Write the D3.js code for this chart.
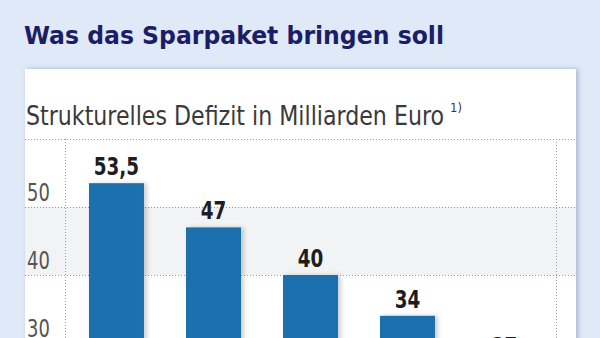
<!DOCTYPE html>
<html><head><meta charset="utf-8">
<script src="https://cdn.jsdelivr.net/npm/d3@7"></script>
<style>
html,body{margin:0;padding:0;background:#dfe9f8;overflow:hidden}
svg{display:block}
</style></head>
<body>
<svg id="c" width="600" height="338"></svg>
<script>
const title = "Was das Sparpaket bringen soll";
const subtitle = "Strukturelles Defizit in Milliarden Euro";
const footnoteMark = "1)";
const categories = ["2011", "2012", "2013", "2014", "2015"];
const values = [53.5, 47, 40, 34, 27];
const valueLabels = ["53,5", "47", "40", "34", "27"];
const yTicks = [0, 10, 20, 30, 40, 50];

const svg = d3.select("#c");
const defs = svg.append("defs");
const sh = defs.append("filter").attr("id","psh").attr("x","-5%").attr("y","-5%").attr("width","110%").attr("height","110%");
sh.append("feDropShadow").attr("dx",2).attr("dy",0).attr("stdDeviation",2.5).attr("flood-color","#6a7fa0").attr("flood-opacity",0.5);
const bsh = defs.append("filter").attr("id","bsh").attr("x","-10%").attr("y","-10%").attr("width","130%").attr("height","120%");
bsh.append("feDropShadow").attr("dx",3).attr("dy",0).attr("stdDeviation",2).attr("flood-color","#000").attr("flood-opacity",0.18);

svg.append("rect").attr("width",600).attr("height",338).attr("fill","#dfe9f8");

// panel
svg.append("rect").attr("x",25).attr("y",69).attr("width",551).attr("height",400)
  .attr("fill","#ffffff").attr("filter","url(#psh)");

const condensed = "'Liberation Sans Narrow','DejaVu Sans Condensed','Arial Narrow','DejaVu Sans',sans-serif";

function squeeze(sel, f){
  sel.each(function(){ const w = this.getComputedTextLength(); d3.select(this).attr("textLength", w*f).attr("lengthAdjust","spacingAndGlyphs"); });
  return sel;
}

svg.append("text").attr("x",24).attr("y",44)
  .attr("font-family",condensed).attr("font-weight","bold").attr("font-size",25)
  .attr("fill","#1b1e66").attr("textLength",420).attr("lengthAdjust","spacingAndGlyphs")
  .text(title);

svg.append("text").attr("x",26).attr("y",125)
  .attr("font-family",condensed).attr("font-size",26)
  .attr("fill","#3a3a3a").attr("textLength",418).attr("lengthAdjust","spacingAndGlyphs")
  .text(subtitle);
svg.append("text").attr("x",450).attr("y",112)
  .attr("font-family",condensed).attr("font-size",13)
  .attr("fill","#3a3a3a").text(footnoteMark);

const y = d3.scaleLinear().domain([0,60]).range([547,139]);
const x = d3.scaleBand().domain(categories).range([65,556]).paddingInner(0.433).paddingOuter(0.247);

// bands
const bandPairs = [[40,50],[20,30],[0,10]];
svg.append("g").selectAll("rect").data(bandPairs).join("rect")
  .attr("x",25).attr("width",551)
  .attr("y",d=>y(d[1])).attr("height",d=>y(d[0])-y(d[1]))
  .attr("fill","#f2f3f4");

const dot = {stroke:"#9a9a9a","stroke-width":1,"stroke-dasharray":"1,2"};
function applyDot(sel){ Object.entries(dot).forEach(([k,v])=>sel.attr(k,v)); return sel; }

applyDot(svg.append("line").attr("x1",25).attr("x2",576).attr("y1",y(60)+0.5).attr("y2",y(60)+0.5));
applyDot(svg.append("g").selectAll("line").data(yTicks).join("line")
  .attr("x1",25).attr("x2",576).attr("y1",d=>Math.round(y(d))+0.5).attr("y2",d=>Math.round(y(d))+0.5));
applyDot(svg.append("line").attr("x1",65.5).attr("x2",65.5).attr("y1",y(60)).attr("y2",y(0)));
applyDot(svg.append("line").attr("x1",556.5).attr("x2",556.5).attr("y1",y(60)).attr("y2",y(0)));

// y labels
squeeze(svg.append("g").selectAll("text").data(yTicks.filter(d=>d>0)).join("text")
  .attr("x",27).attr("y",d=>y(d)-6)
  .attr("font-family",condensed).attr("font-size",24).attr("fill","#555")
  .text(d=>d), 0.83);

// bars
svg.append("g").selectAll("rect").data(values).join("rect")
  .attr("x",(d,i)=>x(categories[i])).attr("width",x.bandwidth())
  .attr("y",d=>y(d)).attr("height",d=>y(0)-y(d))
  .attr("fill","#1a6fad").attr("filter","url(#bsh)");

// value labels
squeeze(svg.append("g").selectAll("text").data(values).join("text")
  .attr("x",(d,i)=>x(categories[i])+x.bandwidth()/2).attr("y",d=>y(d)-8)
  .attr("text-anchor","middle")
  .attr("font-family",condensed).attr("font-weight","bold").attr("font-size",24).attr("fill","#1e1e1e")
  .text((d,i)=>valueLabels[i]), 0.85);
</script>
</body></html>
